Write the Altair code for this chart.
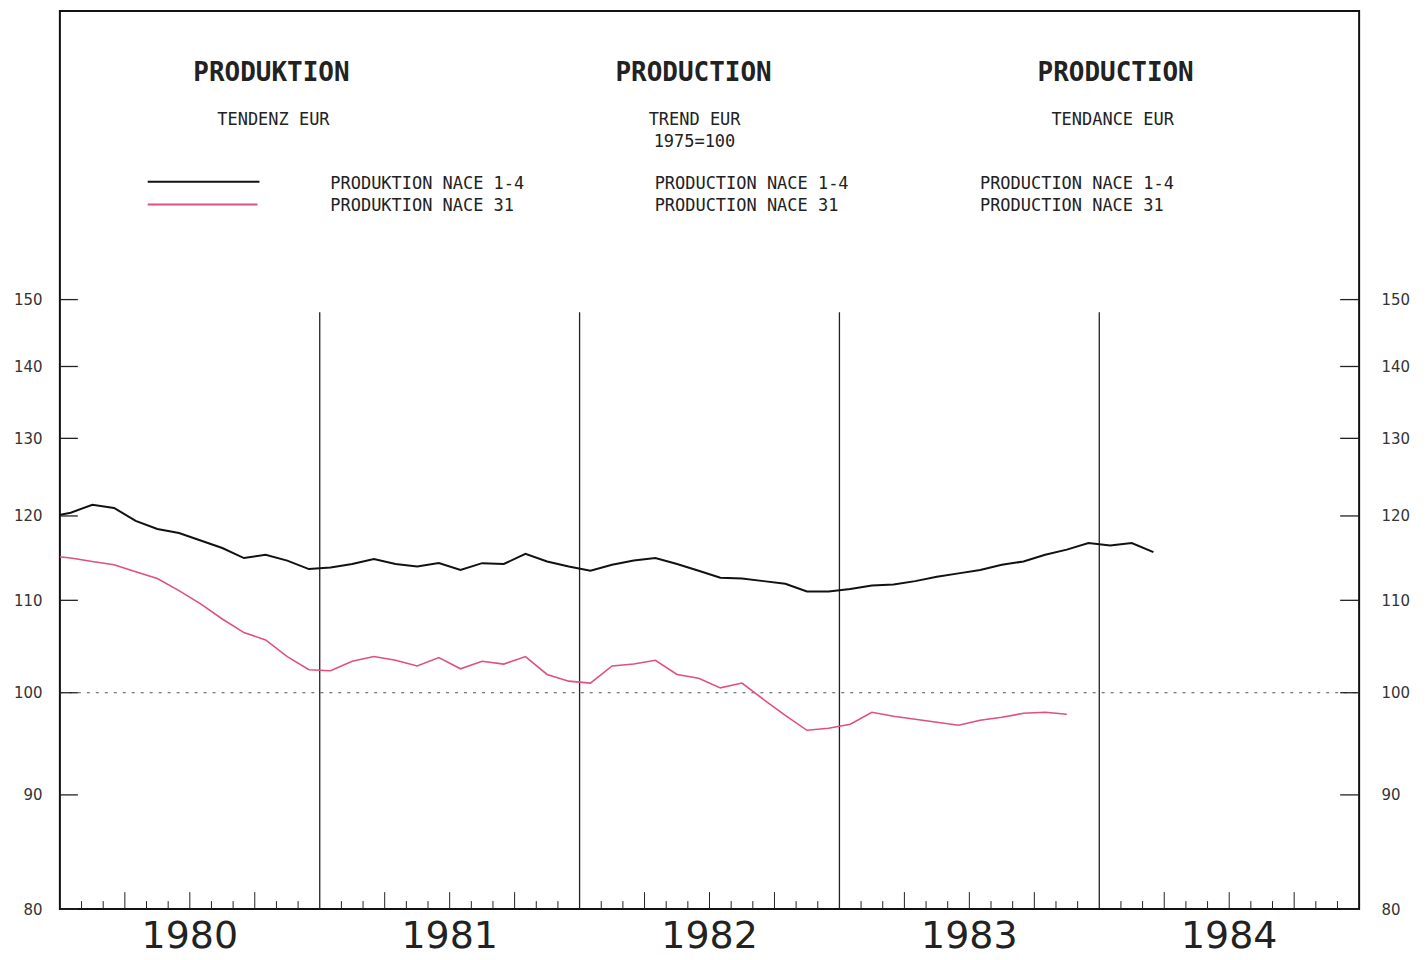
import altair as alt
import pandas as pd

# ---- data (monthly, mid-month, Dec 1979 .. ) ----
black_vals = [119.9, 120.4, 121.4, 121.0, 119.4, 118.4, 117.9, 117.0, 116.1, 114.9,
              115.3, 114.6, 113.6, 113.8, 114.2, 114.8, 114.2, 113.9, 114.3, 113.5,
              114.3, 114.2, 115.4, 114.5, 113.9, 113.4, 114.1, 114.6, 114.9, 114.2,
              113.4, 112.6, 112.5, 112.2, 111.9, 111.0, 111.0, 111.3, 111.7, 111.8,
              112.2, 112.7, 113.1, 113.5, 114.1, 114.5, 115.3, 115.9, 116.7, 116.4,
              116.7, 115.6]
red_vals = [115.2, 114.9, 114.5, 114.1, 113.3, 112.5, 111.1, 109.6, 107.9, 106.4,
            105.6, 103.8, 102.4, 102.3, 103.3, 103.8, 103.4, 102.8, 103.7, 102.5,
            103.3, 103.0, 103.8, 101.9, 101.2, 101.0, 102.8, 103.0, 103.4, 101.9,
            101.5, 100.5, 101.0, 99.3, 97.7, 96.2, 96.4, 96.8, 98.0, 97.6,
            97.3, 97.0, 96.7, 97.2, 97.5, 97.9, 98.0, 97.8]
years = [1980, 1981, 1982, 1983, 1984]
year_dividers = [1981, 1982, 1983, 1984]
y_tick_values = [80, 90, 100, 110, 120, 130, 140, 150]
reference_level = [100]
series_names = ["NACE 1-4", "NACE 31"]
series_colors = ["#111111", "#e0507e"]

W, H = 1302, 900

def month_pos(k):
    return 1980 + (k - 0.5) / 12.0

rows = []
for k, v in enumerate(black_vals):
    rows.append({"t": month_pos(k), "v": v, "s": series_names[0]})
for k, v in enumerate(red_vals):
    rows.append({"t": month_pos(k), "v": v, "s": series_names[1]})
df = pd.DataFrame(rows)

short_ticks = pd.DataFrame({"t": [1980 + m / 12.0 for m in range(1, 60) if m % 3 != 0]})
long_ticks = pd.DataFrame({"t": [1980 + m / 12.0 for m in range(1, 60)
                                 if m % 3 == 0 and m % 12 != 0]})
year_df = pd.DataFrame({"year": years, "mid": [y + 0.5 for y in years],
                        "label": [str(y) for y in years]})
div_df = pd.DataFrame({"t": year_dividers})
ytk = pd.DataFrame({"v": y_tick_values})
ref_df = pd.DataFrame({"v": reference_level})

xs = alt.Scale(domain=[1980, 1985], nice=False, zero=False)
ys = alt.Scale(type="log", domain=[80, 202], nice=False)

lines = alt.Chart(df).mark_line(clip=True).encode(
    x=alt.X("t:Q", scale=xs, axis=None),
    y=alt.Y("v:Q", scale=ys, axis=alt.Axis(
        values=y_tick_values, format="d", orient="left", domain=False, ticks=False,
        grid=False, labelFontSize=15, labelFont="DejaVu Sans", labelColor="#333",
        labelPadding=18, title=None)),
    color=alt.Color("s:N", scale=alt.Scale(domain=series_names, range=series_colors),
                    legend=None),
    strokeWidth=alt.StrokeWidth("s:N", scale=alt.Scale(domain=series_names, range=[2, 1.6]),
                                legend=None),
)

ref_line = alt.Chart(ref_df).mark_rule(color="#555", strokeDash=[3, 6], strokeWidth=1).encode(
    y=alt.Y("v:Q", scale=ys, axis=None), x=alt.value(0), x2=alt.value(W))

dividers = alt.Chart(div_df).mark_rule(color="#222", strokeWidth=1.3).encode(
    x=alt.X("t:Q", scale=xs, axis=None), y=alt.value(302), y2=alt.value(H))

sticks = alt.Chart(short_ticks).mark_rule(color="#222", strokeWidth=1).encode(
    x=alt.X("t:Q", scale=xs, axis=None), y=alt.value(H), y2=alt.value(H - 8))
lticks = alt.Chart(long_ticks).mark_rule(color="#222", strokeWidth=1).encode(
    x=alt.X("t:Q", scale=xs, axis=None), y=alt.value(H), y2=alt.value(H - 17))

ytick_left = alt.Chart(ytk).mark_rule(color="#222", strokeWidth=1.3).encode(
    y=alt.Y("v:Q", scale=ys, axis=None), x=alt.value(0), x2=alt.value(18))

ytick_right = alt.Chart(ytk).mark_rule(color="#222", strokeWidth=1.3).encode(
    y=alt.Y("v:Q", scale=ys, axis=alt.Axis(
        values=y_tick_values, format="d", orient="right", domain=False, ticks=False,
        grid=False, labelFontSize=15, labelFont="DejaVu Sans", labelColor="#333",
        labelPadding=22, title=None)),
    x=alt.value(W - 19), x2=alt.value(W))

year_labels = alt.Chart(year_df).mark_text(
    fontSize=38, font="DejaVu Sans", color="#222", baseline="alphabetic").encode(
    x=alt.X("mid:Q", scale=xs, axis=None), y=alt.value(939), text="label:N")

def txt(s, x, y, size=17, align="left", weight="normal"):
    return alt.Chart(ref_df).mark_text(
        text=s, fontSize=size, font="DejaVu Sans Mono", align=align,
        baseline="alphabetic", color="#222", fontWeight=weight).encode(
        x=alt.value(x), y=alt.value(y))

def leg(x1, x2, y, color, w):
    return alt.Chart(ref_df).mark_rule(color=color, strokeWidth=w).encode(
        x=alt.value(x1), x2=alt.value(x2), y=alt.value(y))

texts = [
    txt("PRODUKTION", 212, 70, 26, "center", "bold"),
    txt("PRODUCTION", 635, 70, 26, "center", "bold"),
    txt("PRODUCTION", 1058, 70, 26, "center", "bold"),
    txt("TENDENZ EUR", 214, 114, 17, "center"),
    txt("TREND EUR", 590, 114, 17),
    txt("1975=100", 595, 136, 17),
    txt("TENDANCE EUR", 1055, 114, 17, "center"),
    txt("PRODUKTION NACE 1-4", 271, 178),
    txt("PRODUKTION NACE 31", 271, 200),
    txt("PRODUCTION NACE 1-4", 596, 178),
    txt("PRODUCTION NACE 31", 596, 200),
    txt("PRODUCTION NACE 1-4", 922, 178),
    txt("PRODUCTION NACE 31", 922, 200),
    leg(88, 200, 171, series_colors[0], 2),
    leg(88, 198, 194, series_colors[1], 2),
]

chart = alt.layer(
    ref_line, dividers, sticks, lticks, ytick_left, ytick_right, lines, year_labels, *texts
).resolve_axis(y="independent").properties(
    width=W, height=H,
    autosize=alt.AutoSizeParams(type="none"),
    padding={"left": 52, "top": 2, "right": 60, "bottom": 48},
).configure(
    background="white",
    view=alt.ViewConfig(stroke="#111111", strokeWidth=2),
)

chart.save("out.html", embed_options={"renderer": "svg", "actions": False})
